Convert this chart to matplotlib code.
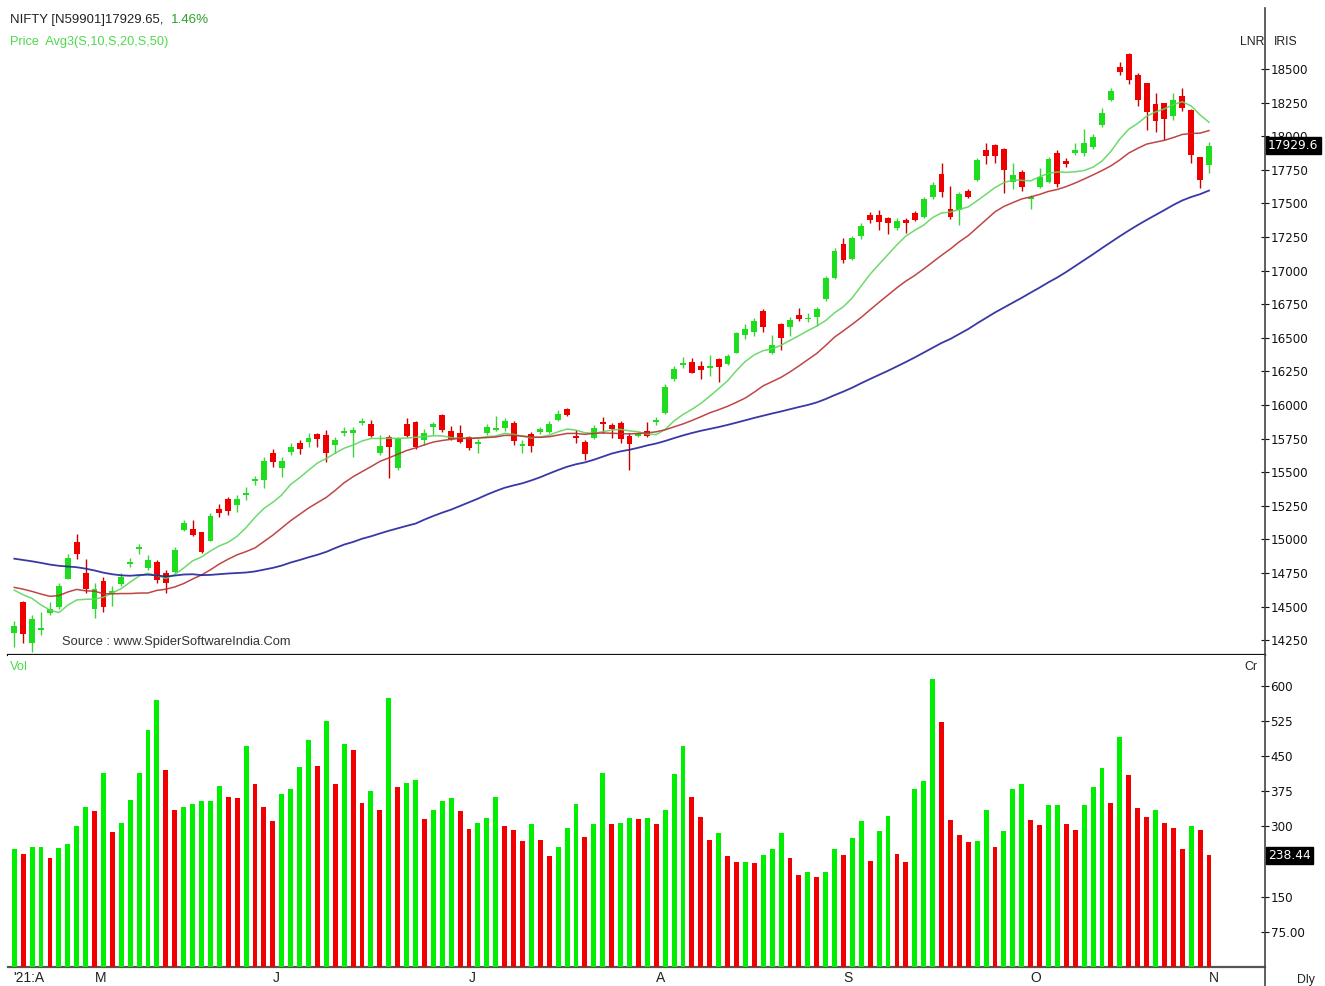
import numpy as np
import matplotlib
matplotlib.use('Agg')
import matplotlib.pyplot as plt
from matplotlib.lines import Line2D

# ---------------- data ----------------
opens = [14306, 14537, 14227, 14326, 14450, 14499, 14708, 14979, 14747, 14481,
         14687, 14604, 14668, 14817, 14929, 14790, 14834, 14749, 14756, 15073,
         15075, 15053, 14987, 15230, 15300, 15256, 15330, 15435, 15440, 15640,
         15529, 15653, 15720, 15727, 15782, 15777, 15702, 15789, 15794, 15869,
         15859, 15640, 15765, 15529, 15860, 15870, 15740, 15839, 15926, 15809,
         15794, 15759, 15710, 15789, 15814, 15826, 15869, 15695, 15784, 15801,
         15801, 15888, 15968, 15765, 15727, 15752, 15869, 15851, 15864, 15769,
         15769, 15809, 15876, 15943, 16191, 16300, 16322, 16290, 16278, 16342,
         16305, 16389, 16521, 16546, 16702, 16389, 16603, 16578, 16670, 16637,
         16652, 16790, 16942, 17198, 17084, 17257, 17414, 17414, 17389, 17314,
         17376, 17426, 17396, 17550, 17720, 17456, 17451, 17595, 17674, 17897,
         17932, 17906, 17662, 17736, 17535, 17625, 17662, 17873, 17818, 17878,
         17873, 17917, 18083, 18269, 18517, 18612, 18455, 18393, 18240, 18250,
         18150, 18299, 18195, 17843, 17783]
highs = [14395, 14542, 14437, 14460, 14537, 14673, 14890, 15044, 14855, 14673,
         14723, 14650, 14750, 14864, 14967, 14884, 14847, 14772, 14946, 15145,
         15144, 15058, 15199, 15265, 15313, 15330, 15387, 15472, 15610, 15670,
         15616, 15715, 15740, 15789, 15794, 15814, 15759, 15835, 15839, 15905,
         15888, 15777, 15777, 15759, 15900, 15880, 15823, 15875, 15933, 15844,
         15851, 15769, 15745, 15859, 15915, 15901, 15883, 15740, 15801, 15834,
         15883, 15963, 15975, 15814, 15740, 15851, 15913, 15864, 15883, 15789,
         15801, 15870, 15913, 16156, 16290, 16360, 16347, 16330, 16372, 16347,
         16379, 16546, 16603, 16645, 16712, 16521, 16608, 16652, 16719, 16687,
         16732, 16960, 17166, 17240, 17257, 17357, 17438, 17451, 17401, 17389,
         17389, 17446, 17545, 17662, 17803, 17629, 17587, 17605, 17835, 17947,
         17943, 17912, 17798, 17748, 17562, 17761, 17848, 17897, 17836, 17947,
         18050, 18014, 18207, 18356, 18555, 18617, 18468, 18398, 18319, 18250,
         18324, 18356, 18200, 17843, 17960]
lows = [14202, 14227, 14165, 14289, 14437, 14484, 14703, 14856, 14601, 14417,
        14461, 14506, 14655, 14792, 14892, 14772, 14673, 14604, 14752, 15060,
        15025, 14896, 14985, 15170, 15182, 15206, 15293, 15405, 15385, 15541,
        15465, 15628, 15635, 15690, 15690, 15575, 15645, 15769, 15610, 15851,
        15759, 15628, 15460, 15516, 15760, 15672, 15705, 15775, 15801, 15740,
        15720, 15665, 15645, 15777, 15809, 15809, 15702, 15645, 15653, 15784,
        15789, 15883, 15918, 15720, 15591, 15745, 15789, 15752, 15715, 15520,
        15759, 15760, 15851, 15933, 16180, 16273, 16236, 16191, 16216, 16168,
        16298, 16384, 16489, 16513, 16546, 16380, 16409, 16513, 16627, 16620,
        16588, 16775, 16935, 17060, 17079, 17233, 17357, 17302, 17272, 17305,
        17282, 17372, 17389, 17530, 17550, 17381, 17339, 17538, 17669, 17793,
        17802, 17576, 17608, 17590, 17455, 17612, 17650, 17625, 17773, 17860,
        17853, 17905, 18066, 18260, 18455, 18388, 18225, 18045, 18035, 17970,
        18121, 18190, 17800, 17614, 17729]
closes = [14359, 14296, 14406, 14341, 14485, 14653, 14864, 14894, 14631, 14634,
          14496, 14618, 14724, 14823, 14942, 14850, 14697, 14677, 14923, 15120,
          15030, 14906, 15175, 15200, 15210, 15301, 15340, 15440, 15585, 15575,
          15580, 15690, 15672, 15755, 15745, 15640, 15740, 15805, 15815, 15880,
          15768, 15692, 15685, 15748, 15772, 15688, 15795, 15862, 15814, 15750,
          15722, 15680, 15724, 15838, 15822, 15882, 15730, 15705, 15695, 15822,
          15860, 15935, 15925, 15755, 15632, 15830, 15858, 15822, 15750, 15712,
          15785, 15768, 15890, 16135, 16265, 16310, 16241, 16260, 16285, 16280,
          16368, 16535, 16568, 16622, 16578, 16448, 16496, 16630, 16637, 16648,
          16712, 16945, 17145, 17079, 17245, 17330, 17375, 17364, 17357, 17372,
          17357, 17378, 17530, 17640, 17587, 17401, 17570, 17546, 17822, 17853,
          17855, 17748, 17715, 17620, 17550, 17700, 17830, 17648, 17790, 17900,
          17950, 17995, 18170, 18340, 18477, 18418, 18266, 18178, 18114, 18125,
          18268, 18210, 17857, 17672, 17929.65]
# closes of the 49 sessions before the first bar (needed for the moving averages)
prior_closes = [14790, 14896, 14924, 15116, 15110, 15106, 15173, 15163, 15315, 15314,
                15209, 15119, 14982, 14676, 14708, 14982, 15097, 14529, 14762, 14920,
                15245, 15081, 14938, 14956, 15099, 15174, 15031, 14929, 14910, 14721,
                14558, 14744, 14736, 14815, 14549, 14325, 14507, 14845, 14691, 14867,
                14638, 14684, 14819, 14873, 14835, 14311, 14505, 14581, 14617]
volumes = [251, 242, 257, 257, 233, 253, 263, 300, 342, 332, 414, 288, 308, 357, 414,
           505, 569, 420, 335, 342, 347, 354, 354, 387, 363, 360, 471, 390, 342, 311,
           369, 381, 426, 484, 429, 526, 390, 475, 463, 351, 375, 335, 574, 384, 393,
           399, 315, 335, 354, 360, 332, 295, 308, 317, 363, 300, 293, 269, 305, 272,
           236, 257, 296, 347, 278, 305, 414, 305, 308, 317, 315, 317, 305, 335, 411,
           472, 363, 320, 272, 287, 236, 224, 224, 221, 239, 251, 287, 233, 197, 202,
           193, 202, 251, 239, 275, 311, 226, 290, 323, 242, 224, 381, 396, 614, 523,
           314, 281, 266, 269, 335, 257, 290, 381, 390, 314, 303, 345, 345, 305, 293,
           345, 384, 424, 351, 492, 409, 339, 320, 335, 308, 296, 251, 300, 293, 238.44]
vol_colors = ("GRGGRGGGGR" "GRGGGGGRRG" "GGGGRRGRRR" "GGGGRGRGRR" "GRGRGGRGG"
              "GRRGGGRRRG" "RRGGGRGGRG" "GRGRGGGRRR" "GRRGRGGGRR" "GRGGRGG"
              "RGGRRGGGRR" "RRGGRGGGRR" "GGRRGGGRGR" "RRGRRRGRR")
month_labels = ["'21:A", "M", "J", "J", "A", "S", "O", "N"]
month_idx = [0, 9, 29, 51, 72, 93, 114, 134]
price_ticks = list(range(14250, 18501, 250))
vol_ticks = [75, 150, 300, 375, 450, 525, 600]
ma_periods = [10, 20, 50]
ma_colors = ['#5ED65E', '#B83232', '#23239C']

# ---------------- figure ----------------
W, H = 1325, 986
fig = plt.figure(figsize=(W / 100, H / 100), dpi=100)
fig.patch.set_facecolor('white')
FONT = ['Liberation Sans', 'DejaVu Sans']

def fx(px):
    return px / W

def fy(py):
    return 1 - py / H

renderer = fig.canvas.get_renderer()

def fit_text(xp, yp, s, target_w, size=10, **kw):
    t = fig.text(fx(xp), fy(yp), s, ha='left', va='center', fontsize=size,
                 family=FONT, **kw)
    w = t.get_window_extent(renderer).width
    t.set_fontsize(size * target_w / w)
    return t

ax_l, ax_r = 8, 1265
axp = fig.add_axes([fx(ax_l), fy(655), fx(ax_r - ax_l), (655 - 8) / H])
axv = fig.add_axes([fx(ax_l), fy(967), fx(ax_r - ax_l), (967 - 655) / H], sharex=axp)

n = len(closes)
x = np.arange(n)
o = np.array(opens, float); c = np.array(closes, float)
hi = np.array(highs, float); lo = np.array(lows, float)

up = c >= o
cgreen, cred = '#1EDC1E', '#EE0000'
wgreen, wred = '#3CD23C', '#C80000'
ccols = np.where(up, cgreen, cred)
wcols = np.where(up, wgreen, wred)
axp.vlines(x, lo, hi, colors=wcols, lw=1.0, zorder=3)
body_bot = np.minimum(o, c)
body_h = np.maximum(np.abs(c - o), 14)
axp.bar(x, body_h, bottom=body_bot, width=0.66, color=ccols, linewidth=0, zorder=4)

# moving averages (drawn over the candles)
allc = np.array(prior_closes + closes, float)
off = len(prior_closes)
for per, col in zip(ma_periods, ma_colors):
    sma = np.array([allc[off + i - per + 1: off + i + 1].mean() for i in range(n)])
    axp.plot(x, sma, color=col, lw=1.1 if per < 50 else 1.3, alpha=0.9, zorder=5)

# volume
vcols = ['#00EE00' if ch == 'G' else '#F00000' for ch in vol_colors]
axv.bar(x, volumes, width=0.55, color=vcols, linewidth=0, zorder=3)

# limits
xl = (ax_l - 14.3) / 8.916
xr = n - 1 + (ax_r - 1209) / 8.916
axp.set_xlim(xl, xr)
axp.set_ylim(14140, 18954)
axv.set_ylim(0, 666)

for a in (axp, axv):
    a.set_facecolor('white')
    a.spines['left'].set_visible(False)
    a.spines['top'].set_visible(False)
    a.spines['right'].set_color('#444444')
    a.spines['right'].set_linewidth(1.2)
    a.yaxis.tick_right()
    a.tick_params(axis='y', direction='inout', length=6, width=0.8, pad=1,
                  labelsize=8.6, colors='#111111')
    a.tick_params(axis='x', bottom=False, labelbottom=False)
axp.spines['bottom'].set_color('#111111')
axp.spines['bottom'].set_linewidth(1.6)
axv.spines['bottom'].set_color('#555555')
axv.spines['bottom'].set_linewidth(1.6)

axp.set_yticks(price_ticks)
axp.set_yticklabels([str(t) for t in price_ticks])
axv.set_yticks(vol_ticks)
axv.set_yticklabels(['75.00' if t == 75 else str(t) for t in vol_ticks])

# extend right axis line to bottom
fig.add_artist(Line2D([fx(ax_r), fx(ax_r)], [fy(967), fy(986)], color='#444444', lw=1.2))

# last value boxes
axp.text(1.0025, 17929.65, '17929.6', transform=axp.get_yaxis_transform(), ha='left',
         va='center', color='white', fontsize=8.8, zorder=10,
         bbox=dict(boxstyle='square,pad=0.18', fc='black', ec='black'))
axv.text(1.0025, 238.44, '238.44', transform=axv.get_yaxis_transform(), ha='left',
         va='center', color='white', fontsize=8.8, zorder=10,
         bbox=dict(boxstyle='square,pad=0.18', fc='black', ec='black'))

# month labels
for lab, idx in zip(month_labels, month_idx):
    xpix = 14.3 + 8.916 * idx
    if idx == 0:
        xpix = 13
    fig.text(fx(xpix), fy(978), lab, ha='left', va='center', fontsize=10,
             family=FONT, color='#222222')

# header and annotation texts
fit_text(10, 20, 'NIFTY [N59901]17929.65,', 152, color='#222222')
fit_text(171, 20, '1.46%', 38, color='#2E9E2E')
fit_text(10, 42, 'Price  Avg3(S,10,S,20,S,50)', 159, color='#4CDB4C')
fit_text(62, 642, 'Source : www.SpiderSoftwareIndia.Com', 229, color='#333333')
fit_text(10, 667, 'Vol', 18, color='#4CDB4C')
for s, xp, yp in [('LNR', 1240, 42), ('IRIS', 1274, 42), ('Cr', 1244, 667), ('Dly', 1297, 980)]:
    fig.text(fx(xp), fy(yp), s, ha='left', va='center', fontsize=8.8,
             family=FONT, color='#222222')

fig.savefig('out.png', dpi=100, facecolor='white')
